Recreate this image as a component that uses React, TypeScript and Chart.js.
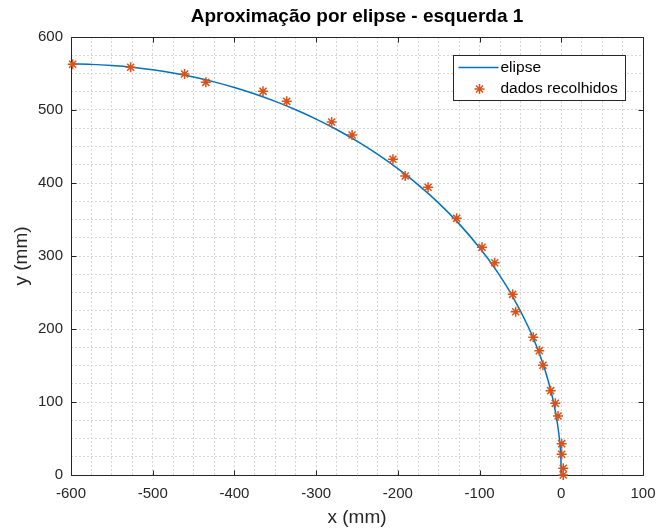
import React, { useEffect, useRef } from 'react';
import { Chart, registerables } from 'chart.js';

Chart.register(...registerables);

const TITLE = 'Aproximação por elipse - esquerda 1';
const X_LABEL = 'x (mm)';
const Y_LABEL = 'y (mm)';
const SERIES_NAMES = ['elipse', 'dados recolhidos'];

const X_TICKS = [-600, -500, -400, -300, -200, -100, 0, 100];
const Y_TICKS = [0, 100, 200, 300, 400, 500, 600];

// fitted ellipse curve
const ELLIPSE_X = [-600, -575, -550, -525, -500, -475, -450, -425, -400, -375, -350, -325, -300, -275, -250, -225, -200, -175, -150, -125, -100, -80, -60, -40, -30, -20, -10, -5, -2, -0.5, 0];
const ELLIPSE_Y = [563, 562.5, 561.0, 558.6, 555.1, 550.6, 545.1, 538.5, 530.8, 521.9, 511.8, 500.4, 487.6, 473.3, 457.3, 439.5, 419.6, 397.4, 372.4, 344.0, 311.2, 280.9, 245.4, 202.1, 175.8, 144.2, 102.4, 72.5, 46.0, 23.0, 0];

// collected data points
const DATA_X = [-598, -527, -461, -435, -365, -336, -281, -256, -206, -191, -163, -128, -97, -81.5, -59.5, -55.8, -34.3, -26.9, -22.4, -13, -7.3, -4, 0.5, 0.5, 2.4, 2.4];
const DATA_Y = [562.6, 558.5, 549.3, 537.9, 525.6, 511.9, 483.6, 465.8, 432.5, 409.6, 394.1, 351.6, 311.9, 290.8, 247.5, 223.7, 188.6, 170.3, 150.3, 115.5, 98.2, 80.8, 42.9, 28.4, 9.2, 0];

const LINE_COLOR = '#0072BD';
const STAR_COLOR = '#D95319';
const AXIS_COLOR = '#262626';
const FONT = '"Liberation Sans", Arial, Helvetica, sans-serif';

const drawStar = (ctx: any, cx: number, cy: number, r: number) => {
  ctx.beginPath();
  ctx.moveTo(cx - r, cy); ctx.lineTo(cx + r, cy);
  ctx.moveTo(cx, cy - r); ctx.lineTo(cx, cy + r);
  const d = r * Math.SQRT1_2;
  ctx.moveTo(cx - d, cy - d); ctx.lineTo(cx + d, cy + d);
  ctx.moveTo(cx - d, cy + d); ctx.lineTo(cx + d, cy - d);
  ctx.stroke();
};

const boxPlugin = {
  id: 'matlabBox',
  beforeDatasetsDraw(chart: any) {
    const { ctx, chartArea: a, scales } = chart;
    const L = Math.floor(a.left) + 0.5;
    const R = Math.floor(a.right) + 0.5;
    const T = Math.floor(a.top) + 0.5;
    const B = Math.floor(a.bottom) + 0.5;
    ctx.save();
    ctx.strokeStyle = AXIS_COLOR;
    ctx.lineWidth = 1;
    ctx.beginPath();
    ctx.rect(L, T, R - L, B - T);
    const tl = 5;
    for (const v of X_TICKS) {
      const px = Math.round(scales.x.getPixelForValue(v)) + 0.5;
      ctx.moveTo(px, B);
      ctx.lineTo(px, B - tl);
      ctx.moveTo(px, T);
      ctx.lineTo(px, T + tl);
    }
    for (const v of Y_TICKS) {
      const py = Math.round(scales.y.getPixelForValue(v)) + 0.5;
      ctx.moveTo(L, py);
      ctx.lineTo(L + tl, py);
      ctx.moveTo(R, py);
      ctx.lineTo(R - tl, py);
    }
    ctx.stroke();
    ctx.restore();
  },
  afterDatasetsDraw(chart: any) {
    const { ctx, chartArea: a } = chart;
    const w = 172;
    const h = 45;
    const right = Math.floor(a.right) - 17.5;
    const left = right - w;
    const top = Math.floor(a.top) + 18.5;
    ctx.save();
    ctx.fillStyle = '#ffffff';
    ctx.fillRect(left, top, w, h);
    ctx.strokeStyle = AXIS_COLOR;
    ctx.lineWidth = 1;
    ctx.strokeRect(left, top, w, h);
    const y1 = top + 12;
    const y2 = top + 33.5;
    ctx.strokeStyle = LINE_COLOR;
    ctx.lineWidth = 1.5;
    ctx.beginPath();
    ctx.moveTo(left + 5, y1);
    ctx.lineTo(left + 45, y1);
    ctx.stroke();
    ctx.strokeStyle = STAR_COLOR;
    ctx.lineWidth = 1.5;
    drawStar(ctx, left + 26, y2, 5);
    ctx.fillStyle = '#000000';
    ctx.font = `15.5px ${FONT}`;
    ctx.textBaseline = 'middle';
    ctx.textAlign = 'left';
    ctx.fillText(SERIES_NAMES[0], left + 47, y1);
    ctx.fillText(SERIES_NAMES[1], left + 47, y2);
    ctx.restore();
  },
};

const isMajor = (list: number[], v: number) => list.some((t) => Math.abs(t - v) < 1e-6);

export default function App() {
  const ref = useRef<HTMLCanvasElement | null>(null);

  useEffect(() => {
    if (!ref.current) return;
    const ellipse = ELLIPSE_X.map((x, i) => ({ x, y: ELLIPSE_Y[i] }));
    const data = DATA_X.map((x, i) => ({ x, y: DATA_Y[i] }));
    const gridCommon = {
      color: '#d6d6d6',
      lineWidth: 1,
      drawTicks: false,
    };
    const chart = new Chart(ref.current, {
      type: 'scatter',
      data: {
        datasets: [
          {
            label: SERIES_NAMES[1],
            data,
            showLine: false,
            pointStyle: 'star',
            pointRadius: 5,
            pointHoverRadius: 5,
            borderColor: STAR_COLOR,
            backgroundColor: STAR_COLOR,
            pointBorderWidth: 1.5,
            order: 0,
            clip: false,
          } as any,
          {
            label: SERIES_NAMES[0],
            data: ellipse,
            showLine: true,
            pointRadius: 0,
            borderColor: LINE_COLOR,
            backgroundColor: LINE_COLOR,
            borderWidth: 1.5,
            cubicInterpolationMode: 'monotone',
            order: 1,
          } as any,
        ],
      },
      options: {
        responsive: false,
        animation: false,
        devicePixelRatio: 1,
        layout: { padding: { left: 0, right: 17, top: 0, bottom: 0 } },
        plugins: {
          legend: { display: false },
          tooltip: { enabled: false },
          title: {
            display: true,
            fullSize: false,
            text: TITLE,
            color: '#000000',
            font: { family: FONT, size: 19, weight: 'bold' },
            padding: { top: 5, bottom: 9.2 },
          },
        },
        scales: {
          x: {
            type: 'linear',
            min: -600,
            max: 100,
            grid: gridCommon,
            border: { display: false, dash: [2, 2] },
            ticks: {
              stepSize: 25,
              autoSkip: false,
              maxRotation: 0,
              padding: 10,
              color: AXIS_COLOR,
              font: { family: FONT, size: 15 },
              callback: (v: any) => (isMajor(X_TICKS, Number(v)) ? String(v) : ''),
            },
            title: {
              display: true,
              text: X_LABEL,
              color: AXIS_COLOR,
              font: { family: FONT, size: 19 },
              padding: { top: 0, bottom: 0 },
            },
            afterFit: (s: any) => {
              s.height = 54;
              s.paddingLeft = 0;
              s.paddingRight = 0;
            },
          },
          y: {
            type: 'linear',
            min: 0,
            max: 600,
            grid: gridCommon,
            border: { display: false, dash: [2, 2] },
            ticks: {
              stepSize: 25,
              autoSkip: false,
              padding: 8,
              color: AXIS_COLOR,
              font: { family: FONT, size: 15 },
              callback: (v: any) => (isMajor(Y_TICKS, Number(v)) ? String(v) : ''),
            },
            title: {
              display: true,
              text: Y_LABEL,
              color: AXIS_COLOR,
              font: { family: FONT, size: 19 },
              padding: { top: 10, bottom: 0 },
            },
            afterFit: (s: any) => {
              s.width = 71;
              s.paddingTop = 0;
              s.paddingBottom = 0;
            },
          },
        },
      } as any,
      plugins: [boxPlugin],
    });
    return () => chart.destroy();
  }, []);

  return (
    <div style={{ position: 'absolute', left: 0, top: 0, width: 660, height: 529, background: '#ffffff' }}>
      <canvas ref={ref} width={660} height={529} style={{ display: 'block', width: 660, height: 529 }} />
    </div>
  );
}
